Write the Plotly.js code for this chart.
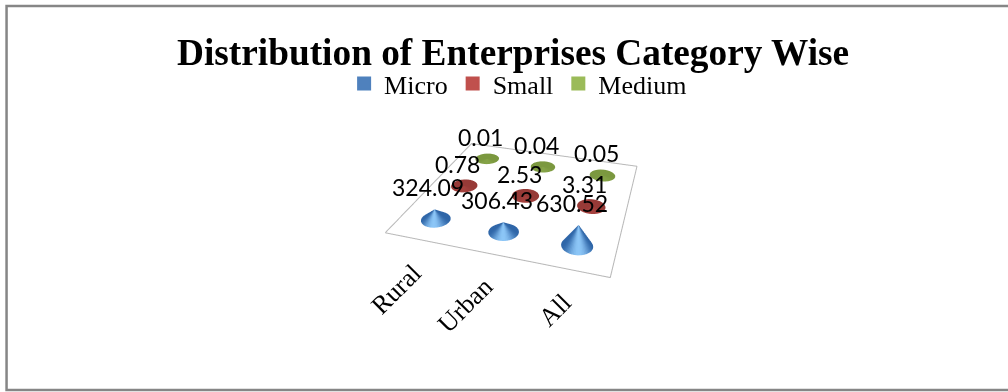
<!DOCTYPE html>
<html>
<head>
<meta charset="utf-8">
<script src="https://cdn.plot.ly/plotly-3.0.1.min.js"></script>
<style>html,body{margin:0;padding:0;background:#fff}#chart{width:1008px;height:392px}</style>
</head>
<body>
<div id="chart"></div>
<script>
const categories = ['Rural', 'Urban', 'All'];
const seriesNames = ['Micro', 'Small', 'Medium'];
const micro = [324.09, 306.43, 630.52];
const small = [0.78, 2.53, 3.31];
const medium = [0.01, 0.04, 0.05];
const legendColors = ['#4f81bd', '#c0504d', '#9bbb59'];
const shadeDark = ['#2f66a8', '#973a37', '#7b983f'];
const shadeLight = ['#8cc6f7', '#a5413e', '#85a347'];

const allSeries = [micro, small, medium];
const R = 0.205;
const SEG = 56;
const zMax = 4300;

function hexMix(a, b, t) {
  const p = s => [1, 3, 5].map(i => parseInt(s.slice(i, i + 2), 16));
  const A = p(a), B = p(b);
  return 'rgb(' + A.map((v, i) => Math.round(v + (B[i] - v) * t)).join(',') + ')';
}

// One cone per value: its height is the value on the z axis, shaded around the circumference.
function coneTrace(cx, cy, value, s) {
  const X = [], Y = [], Z = [], C = [], I = [], J = [], K = [];
  for (let n = 0; n < SEG; n++) {
    const a0 = 2 * Math.PI * n / SEG, a1 = 2 * Math.PI * (n + 1) / SEG;
    const mid = (a0 + a1) / 2;
    const t = Math.pow(Math.max(0, Math.cos(mid + Math.PI / 2 - 0.3)), 3);
    const col = hexMix(shadeDark[s], shadeLight[s], t);
    const b = X.length;
    X.push(cx + R * Math.cos(a0), cx + R * Math.cos(a1), cx);
    Y.push(cy + R * Math.sin(a0), cy + R * Math.sin(a1), cy);
    Z.push(0, 0, value);
    C.push(col, col, col);
    I.push(b); J.push(b + 1); K.push(b + 2);
  }
  return {
    type: 'mesh3d', x: X, y: Y, z: Z, i: I, j: J, k: K, vertexcolor: C,
    flatshading: true, hoverinfo: 'skip', showlegend: false,
    lighting: {ambient: 1, diffuse: 0, specular: 0, roughness: 1, fresnel: 0}
  };
}

const traces = [];
const annotations = [];
allSeries.forEach((vals, s) => {
  vals.forEach((v, c) => {
    traces.push(coneTrace(c, s, v, s));
    annotations.push({
      x: c, y: s, z: v, text: v.toFixed(2), showarrow: false,
      xshift: -6, yshift: 22,
      font: {family: 'Lato, Carlito, sans-serif', size: 23, color: '#000'}
    });
  });
});

// Floor outline of the category / series grid
traces.push({
  type: 'scatter3d', mode: 'lines', hoverinfo: 'skip', showlegend: false,
  x: [-0.5, 2.5, 2.5, -0.5, -0.5], y: [-0.5, -0.5, 2.5, 2.5, -0.5], z: [0, 0, 0, 0, 0],
  line: {color: '#b8b8b8', width: 2}
});

// Category names hang below the front edge, right end at the tick
categories.forEach((c, i) => annotations.push({
  x: i, y: -0.5, z: 0, text: c, showarrow: false, textangle: -45,
  xanchor: 'right', yanchor: 'top',
  xshift: 11, yshift: -16,
  font: {family: '"Liberation Serif", serif', size: 26, color: '#000'}
}));

// Empty bars carry the legend swatches
seriesNames.forEach((n, s) => traces.push({
  type: 'bar', x: [null], y: [null], name: n,
  marker: {color: legendColors[s], line: {color: legendColors[s], width: 2}},
  xaxis: 'x', yaxis: 'y', hoverinfo: 'skip'
}));

const layout = {
  width: 1008, height: 392,
  margin: {l: 0, r: 0, t: 0, b: 0},
  paper_bgcolor: '#fff', plot_bgcolor: '#fff',
  title: {text: '<b>Distribution of Enterprises Category Wise</b>', x: 0.509, xanchor: 'center', y: 0.867, yanchor: 'middle',
    font: {family: '"Liberation Serif", serif', size: 37.3, color: '#000'}},
  legend: {orientation: 'h', x: 0.514, xanchor: 'center', y: 0.787, yanchor: 'middle',
    font: {family: '"Liberation Serif", serif', size: 26, color: '#000'}, itemwidth: 30, bgcolor: 'rgba(0,0,0,0)'},
  xaxis: {visible: false, domain: [0, 0.01], fixedrange: true},
  yaxis: {visible: false, domain: [0, 0.01], fixedrange: true},
  scene: {
    domain: {x: [0.071, 0.971], y: [0, 1]},
    bgcolor: 'rgba(0,0,0,0)',
    // ranges run past the floor so its outline is not clipped at the scene bounds
    xaxis: {visible: false, range: [-0.6, 2.6]},
    yaxis: {visible: false, range: [-0.6, 2.6]},
    zaxis: {visible: false, range: [-20, zMax]},
    aspectmode: 'manual',
    aspectratio: {x: 1.09, y: 1.0667, z: 0.7535},
    camera: {eye: {x: 0.62, y: -1.98, z: 0.885}, center: {x: 0, y: 0, z: -0.375}, up: {x: 0, y: 0, z: 1}},
    annotations: annotations
  },
  shapes: [{type: 'rect', xref: 'paper', yref: 'paper', x0: 0.0065, x1: 1.02, y0: 0.005, y1: 0.985,
    line: {color: '#868686', width: 2.5}, fillcolor: 'rgba(0,0,0,0)', layer: 'below'}]
};

Plotly.newPlot('chart', traces, layout, {displayModeBar: false, responsive: false});
</script>
</body>
</html>
